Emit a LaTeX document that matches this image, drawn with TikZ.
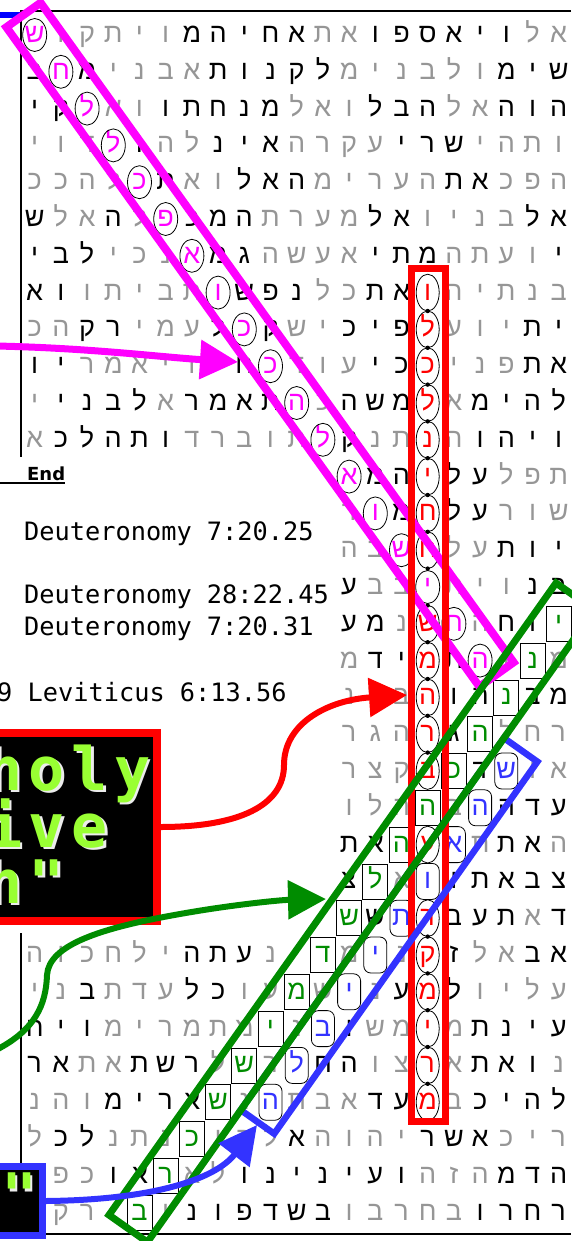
\documentclass[tikz,border=0pt]{standalone}
\usepackage{fontspec}
\usepackage{xcolor}
\usepackage{tikz}
\usetikzlibrary{arrows.meta}

\newfontfamily\hebfont[Script=Hebrew]{Liberation Sans}
\newfontfamily\reffont{DejaVu Sans Mono}
\newfontfamily\endfont{DejaVu Sans}
\newfontfamily\boxfont[LetterSpace=11]{DejaVu Sans Mono}

\definecolor{lettergray}{RGB}{150,150,150}
\definecolor{bandmag}{RGB}{255,0,255}
\definecolor{bandred}{RGB}{255,0,0}
\definecolor{bandgreen}{RGB}{0,140,0}
\definecolor{bandblue}{RGB}{51,51,255}
\definecolor{codegreen}{RGB}{153,255,51}

\newcommand\hk{\color{black}}
\newcommand\hm{\color{bandmag}}
\newcommand\hr{\color{bandred}}
\newcommand\hg{\color{bandgreen}}
\newcommand\hb{\color{bandblue}}

\begin{document}
\begin{tikzpicture}[x=1pt,y=-1pt,
  letter/.style={font=\hebfont\fontsize{27}{27}\selectfont, text=lettergray, inner sep=0pt, text height=15pt, text depth=0pt},
  ring/.style={line width=0.8pt},
  band/.style={line width=8pt, line join=miter},
  arr/.style={line width=6pt, -{Triangle[length=38pt,width=38pt]}},
  ref/.style={font=\reffont\fontsize{25.3}{25.3}\selectfont, anchor=base west, inner sep=0pt},
  boxtxt/.style={font=\boxfont\bfseries\fontsize{60}{60}\selectfont, anchor=base west, inner sep=0pt, text=codegreen}
]
\useasboundingbox (0,0) rectangle (571,1241);

% frame
\draw[line width=1.5pt] (571,11) -- (21,11) -- (21,457);
\draw[line width=1.5pt] (21,933) -- (21,1234) -- (571,1234);
\draw[blue, line width=6pt] (0,15.5) -- (20,15.5);

% letter grid, row/first column/letters
\foreach \r/\cs/\letters in {
  1/1/{\hm ש,ו,ק,ת,י,ו,\hk מ,\hk ה,\hk י,\hk ח,\hk א,ת,א,\hk ו,\hk פ,\hk ס,\hk א,\hk י,\hk ו,ל,א},
  2/1/{\hk ב,\hm ח,\hk מ,י,נ,ב,א,\hk ת,\hk ו,\hk נ,\hk ק,\hk ל,מ,י,נ,ב,ל,ו,\hk מ,\hk י,\hk ש},
  3/1/{\hk י,\hk ק,\hm ל,א,ו,\hk ו,\hk ת,\hk ח,\hk נ,\hk מ,ל,א,ו,\hk ל,\hk ב,\hk ה,ל,א,\hk ה,\hk ו,\hk ה},
  4/1/{י,ו,ד,\hm ל,\hk ו,ה,ל,\hk נ,\hk י,\hk א,ה,ר,ק,ע,\hk י,\hk ר,\hk ש,י,ה,ת,ו},
  5/1/{כ,כ,ה,ל,\hm כ,\hk ת,א,ו,\hk ל,\hk א,\hk ה,מ,י,ר,ע,ה,\hk ת,\hk א,כ,פ,ה},
  6/1/{\hk ש,ל,א,\hk ה,ל,\hm פ,\hk כ,\hk מ,\hk ה,ת,ר,ע,מ,\hk ל,\hk א,ו,י,נ,ב,\hk ל,\hk א},
  7/1/{\hk י,\hk ב,\hk ל,י,כ,נ,\hm א,\hk מ,\hk ג,ה,ש,ע,א,\hk י,\hk ת,\hk מ,ה,ת,ע,ו,\hk י},
  8/1/{\hk א,\hk ו,ו,ת,י,ב,ת,\hm ו,\hk ש,\hk פ,\hk נ,ל,כ,\hk ת,\hk א,\hr ו,ה,י,ת,נ,ב},
  9/1/{כ,ה,\hk ק,\hk ר,י,מ,ע,\hk ל,\hm כ,\hk ק,ש,י,\hk כ,\hk י,\hk פ,\hr ל,ע,ו,י,\hk ת,\hk י},
  10/1/{\hk ו,\hk י,ר,מ,א,י,ו,י,\hk ח,\hm כ,ד,ו,ע,\hk י,\hk כ,\hr כ,י,נ,פ,\hk ת,\hk א},
  11/1/{י,\hk י,\hk נ,\hk ב,\hk ל,א,\hk ר,\hk מ,\hk א,\hk ת,\hm ה,כ,\hk ה,\hk ש,\hk מ,\hr ל,א,\hk מ,\hk י,\hk ה,\hk ל},
  12/1/{א,\hk כ,\hk ל,\hk ה,\hk ת,\hk ו,ד,ר,ב,ו,ת,\hm ל,\hk ק,נ,ת,\hr נ,ה,\hk ו,\hk ה,\hk י,\hk ו},
  13/13/{\hm א,\hk מ,\hk ה,\hr י,\hk ל,\hk ע,ל,פ,ת},
  14/13/{ר,\hm ו,\hk מ,\hr ח,\hk ל,\hk ע,ר,ו,ש},
  15/13/{ה,ב,\hm ש,\hr ח,ל,ע,\hk ת,\hk ו,\hk י},
  16/13/{\hk ע,ב,ב,\hm י,ת,י,ו,\hk נ,\hk ב},
  17/13/{\hk ע,\hk מ,נ,\hr ש,\hm ח,ה,\hk ח,\hk ו,\hg י},
  18/13/{מ,\hk ד,\hk י,\hr מ,\hk ת,\hm ה,ו,\hg נ,מ},
  19/13/{נ,ר,ב,\hr ה,\hk ו,\hk ה,\hg נ,\hk ב,\hk מ},
  20/13/{ר,ג,ה,\hr ר,\hk ג,\hg ה,ל,ח,ר},
  21/13/{ר,צ,ק,\hr ב,\hg כ,\hk ד,\hb ש,ו,א},
  22/13/{ו,ל,ה,\hg ה,ב,\hb ה,\hk ה,\hk ד,\hk ע},
  23/13/{\hk ת,\hk א,\hg ה,\hr ע,\hb א,ת,\hk ת,\hk א,ה},
  24/13/{\hk צ,\hg ל,א,\hb ו,\hk ו,\hk ת,\hk א,\hk ב,\hk צ},
  25/13/{\hg ש,\hk ש,\hb ת,\hr ר,\hk ב,\hk ע,\hk ת,א,\hk ד},
  26/1/{ה,ו,כ,ח,ל,י,\hk ה,\hk ת,\hk ע,נ,י,\hg ד,מ,\hb י,נ,\hr ק,\hk ז,ל,א,\hk ב,\hk א},
  27/1/{י,נ,\hk ב,ת,ד,ע,\hk ל,\hk כ,ו,ע,\hg מ,ש,\hb י,נ,\hk ע,\hr מ,\hk ל,ו,י,ל,ע},
  28/1/{\hk ח,\hk י,\hk ו,מ,י,ר,מ,ת,מ,\hg י,נ,\hb ב,\hk ו,ש,מ,\hr י,מ,\hk ת,\hk נ,\hk י,\hk ע},
  29/1/{\hk ר,\hk א,ת,א,\hk ת,\hk ש,\hk ר,ל,\hg ש,ר,\hb ל,\hk ח,\hk ה,ו,צ,\hr ר,א,\hk ת,\hk א,\hk ו,נ},
  30/1/{נ,ה,ו,\hk מ,\hk י,\hk ר,\hk א,\hg ש,נ,\hb ה,ת,ב,א,\hk ד,\hk ע,\hr מ,ב,\hk כ,\hk י,\hk ה,\hk ל},
  31/1/{ל,\hk כ,\hk ל,נ,ת,נ,\hg כ,י,ה,ל,\hk א,ה,ו,ה,י,\hk ר,\hk ש,\hk א,כ,י,ר},
  32/1/{ו,פ,כ,\hk ו,\hk א,\hg ר,א,ל,\hk ו,\hk נ,\hk י,\hk נ,\hk י,\hk ע,\hk ו,ה,ז,ה,\hk מ,\hk ד,\hk ה},
  33/1/{ו,ק,ר,י,\hg ב,ו,\hk נ,\hk ו,\hk פ,\hk ד,\hk ש,\hk ב,ו,ב,ר,ח,ב,\hk ו,\hk ר,\hk ח,\hk ר}}{
  \foreach \l [count=\c from \cs] in \letters
    \node[letter] (l-\r-\c) at ({34.7+(\c-1)*26.2},{35+(\r-1)*36.8}) {\l};
}

% marks round the found letters
\foreach \r in {1,...,18} \draw[ring] (l-\r-\r) ellipse (12pt and 16.5pt);
\foreach \r in {8,...,15,17,18,19,20,21,23,25,26,27,28,29,30}
  \draw[ring] (l-\r-16) ellipse (11.5pt and 18.4pt);
\foreach \r in {8,...,20,25,26,27,28,29} \fill (l-\r-16) ++(0,18.4) circle (2.2pt);
\foreach \r [evaluate=\r as \c using int(38-\r)] in {17,...,33}
  \draw[ring] (l-\r-\c) ++(-12.5,-17.5) rectangle ++(25,35);
\foreach \r [evaluate=\r as \c using int(40-\r)] in {21,...,30}
  \draw[ring, rounded corners=7pt] (l-\r-\c) ++(-11.5,-18) rectangle ++(23,36);

% bands
\draw[band, bandmag] (40.6,2.8) -- (513.6,662.3) -- (479.4,686.7) -- (6.4,27.2) -- cycle;
\draw[band, bandred, line width=7pt] (411.7,268) rectangle (445.7,1121);
\draw[band, bandblue, line width=6.5pt] (503.9,738) -- (537.4,761.7) -- (274.2,1133.7) -- (240.7,1110) -- cycle;
\draw[band, bandgreen, line width=7pt] (556,583) -- (594.4,610.1) -- (147.4,1242.1) -- (109,1215) -- cycle;

% panel
\node[font=\endfont\bfseries\fontsize{18}{18}\selectfont, anchor=base west, inner sep=0pt] (endlbl) at (27,480) {End};
\draw[line width=1.5pt] (0,483) -- (65,483);
\node[ref] (ref1) at (24,540) {Deuteronomy 7:20.25};
\node[ref] (ref2) at (24,603) {Deuteronomy 28:22.45};
\node[ref] (ref3) at (24,635) {Deuteronomy 7:20.31};
\node[ref] (ref4) at (-3,701) {9 Leviticus 6:13.56};

% boxes
\node[draw=bandred, line width=8pt, fill=black, minimum width=186.5pt, minimum height=188pt, inner sep=0pt] (holybox) at (63.25,827) {};
\node[boxtxt, text=white!85!gray] (holy-sh) at (-11.5,792.5) {holy};
\node[boxtxt] (holy) at (-14,790) {holy};
\node[boxtxt, text=white!85!gray] (ive-sh) at (-11.5,849.5) {ive};
\node[boxtxt] (ive) at (-14,847) {ive};
\node[boxtxt, text=white!85!gray] (hq-sh) at (-11.5,905.5) {h"};
\node[boxtxt] (hq) at (-14,903) {h"};
\node[draw=bandblue, line width=7pt, fill=black, minimum width=72.5pt, minimum height=69pt, inner sep=0pt] (quotebox) at (6.25,1201) {};
\node[boxtxt, anchor=north, text=white!85!gray] (q-sh) at (22,1175.5) {"};
\node[boxtxt, anchor=north] (q) at (19.5,1173) {"};

% arrows
\coordinate (magfrom) at (-4,346);
\coordinate (magtip) at (238,362);
\draw[arr, bandmag, line width=7pt] (magfrom) .. controls (90,348) and (160,357) .. (magtip);
\coordinate (redtip) at (407,695);
\draw[arr, bandred] (holybox.east) .. controls (240,827) and (284,805) .. (284,765)
  .. controls (284,722) and (330,700) .. (redtip);
\coordinate (grnfrom) at (-4,1050);
\coordinate (grntip) at (326,899);
\draw[arr, bandgreen] (grnfrom) .. controls (35,1030) and (46,1005) .. (47,975)
  .. controls (49,945) and (100,928) .. (180,914) .. controls (230,905) and (280,900) .. (grntip);
\coordinate (blutip) at (257,1125);
\draw[arr, bandblue] (quotebox.east) .. controls (150,1200) and (215,1180) .. (blutip);
\end{tikzpicture}
\end{document}
